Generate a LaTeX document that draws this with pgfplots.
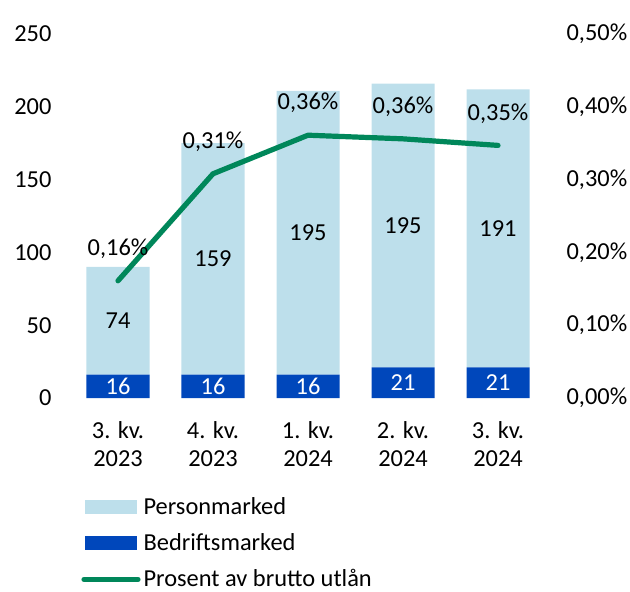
\documentclass[border=0pt]{standalone}
\usepackage{pgfplots}
\pgfplotsset{compat=1.18}
\usepackage{pgfplotstable}
\usepackage{fontspec}
\setmainfont{Carlito}
\definecolor{lblue}{HTML}{BDDFEB}
\definecolor{dblue}{HTML}{0047BB}
\definecolor{lgreen}{HTML}{00875A}
\pgfplotstableread{
x bed pers
0 16 74
1 16 159
2 16 195
3 21 195
4 21 191
}\bars
\newcommand{\ff}{\fontsize{12.2}{14}\selectfont}
\pgfplotsset{
  rectlegend/.style={legend image code/.code={\fill[##1] (0pt,-3.5pt) rectangle (26pt,3.5pt);}},
  linelegend/.style={legend image code/.code={\draw[##1] (-0.5pt,0pt) -- (26.5pt,0pt);}},
}
\begin{document}
\begin{tikzpicture}
\path[use as bounding box] (-35.25pt,-96.5pt) rectangle (279.75pt,199pt);
\begin{axis}[
  at={(0,0)}, anchor=south west,
  scale only axis, width=237.5pt, height=182pt,
  xmin=-0.5, xmax=4.5, ymin=0, ymax=250,
  ybar stacked, bar width=31.5pt,
  axis line style={draw=none}, tick style={draw=none},
  xtick={0,1,2,3,4},
  xticklabels={{3. kv.\\2023},{4. kv.\\2023},{1. kv.\\2024},{2. kv.\\2024},{3. kv.\\2024}},
  xticklabel style={align=center, font=\ff, yshift=-8pt},
  ytick={0,50,100,150,200,250},
  yticklabels={0,50,100,150,200,250},
  yticklabel style={font=\ff, xshift=-6pt},
  nodes near coords style={font=\ff},
]
\addplot[fill=dblue, draw=none, point meta=explicit symbolic,
  nodes near coords,
  every node near coord/.append style={anchor=center, text=white}]
  table[x=x, y=bed, meta=bed] {\bars};
\addplot[fill=lblue, draw=none, point meta=explicit symbolic,
  nodes near coords,
  every node near coord/.append style={anchor=center, text=black}]
  table[x=x, y=pers, meta=pers] {\bars};
\end{axis}
\begin{axis}[
  at={(0,0)}, anchor=south west,
  scale only axis, width=237.5pt, height=182pt,
  xmin=-0.5, xmax=4.5, ymin=0, ymax=0.5,
  axis y line*=right, axis x line=none,
  axis line style={draw=none}, tick style={draw=none},
  ytick={0,0.1,0.2,0.3,0.4,0.5},
  yticklabels={{0,00\%},{0,10\%},{0,20\%},{0,30\%},{0,40\%},{0,50\%}},
  yticklabel style={font=\ff, xshift=7pt},
  legend style={at={(axis description cs:0,0)}, anchor=north west, xshift=5.25pt, yshift=-48pt,
    draw=none, fill=none, font=\ff, inner sep=0pt, row sep=5pt, cells={anchor=west},
    nodes={inner sep=1.5pt}},
  legend cell align=left,
]
\addlegendimage{fill=lblue, draw=none, rectlegend}
\addlegendentry{Personmarked}
\addlegendimage{fill=dblue, draw=none, rectlegend}
\addlegendentry{Bedriftsmarked}
\addplot[lgreen, line width=2.6pt, line cap=round, line join=round, mark=none,
  point meta=explicit symbolic, nodes near coords,
  every node near coord/.append style={anchor=center, text=black, font=\ff, yshift=16pt},
  linelegend]
  coordinates {(0,0.161) [0,16\%] (1,0.308) [0,31\%] (2,0.361) [0,36\%] (3,0.356) [0,36\%] (4,0.347) [0,35\%]};
\addlegendentry{Prosent av brutto utlån}
\end{axis}
\end{tikzpicture}
\end{document}
